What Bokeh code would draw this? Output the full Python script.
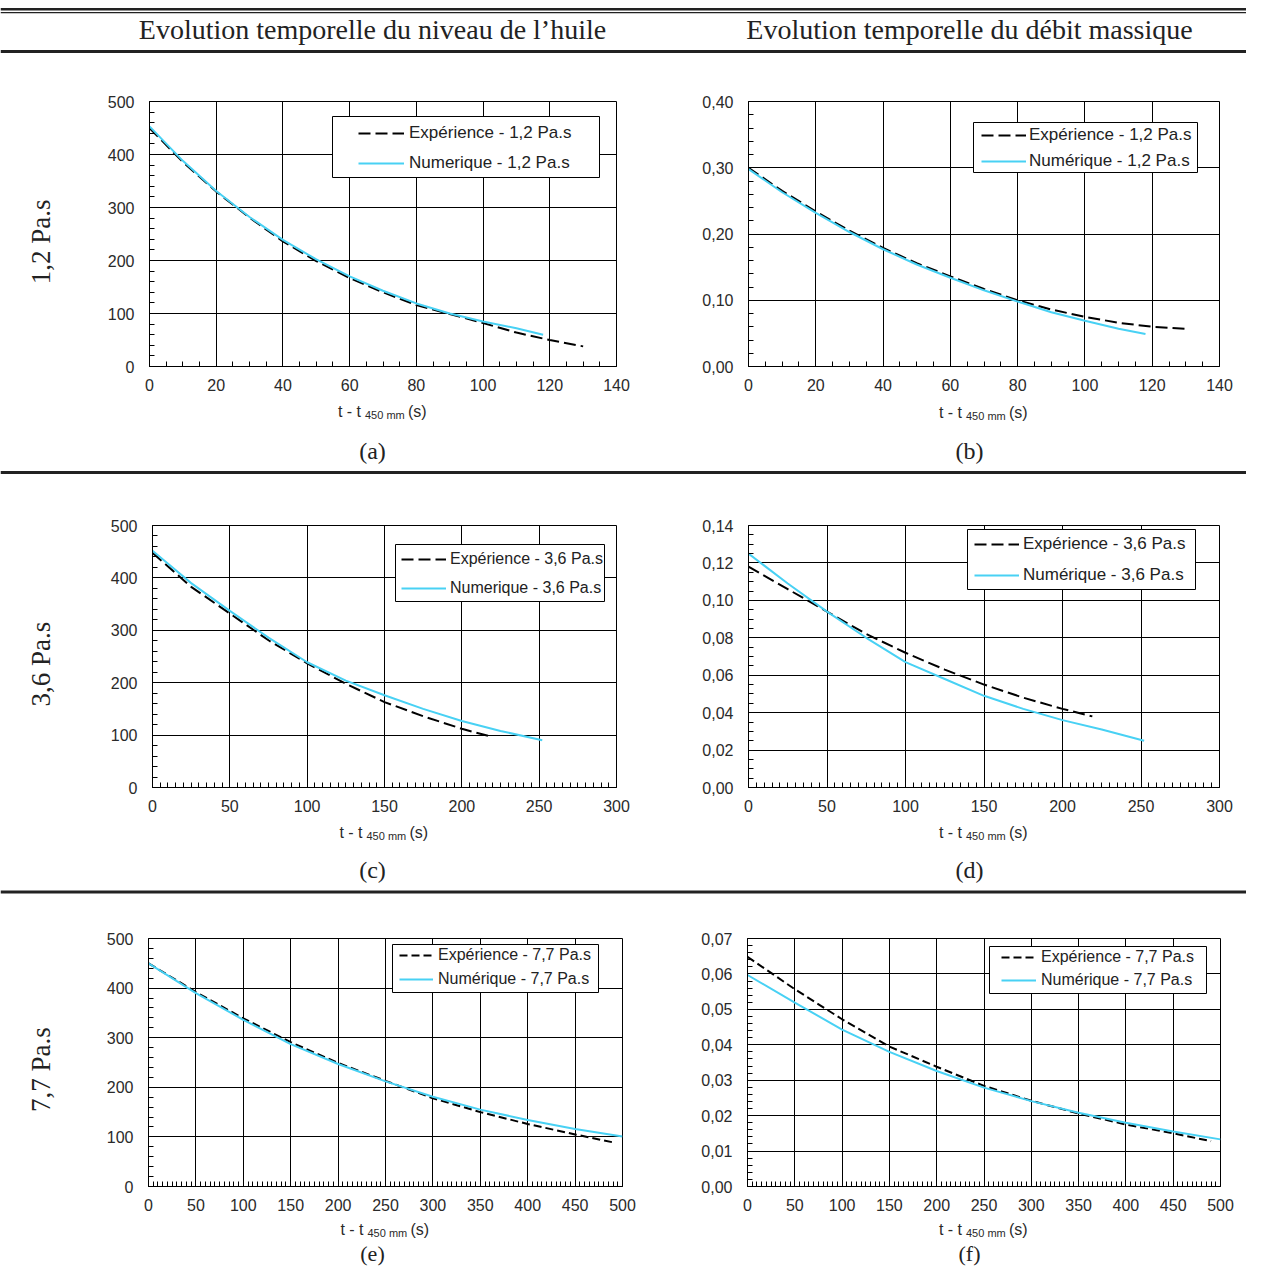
import numpy as np
from bokeh.plotting import figure
from bokeh.layouts import column, row
from bokeh.models import (Range1d, FixedTicker, CustomJSTickFormatter, Legend,
                          LegendItem, BoxAnnotation, Span)
from bokeh.core.properties import value
from bokeh.embed import file_html
from bokeh.resources import INLINE

# ------------------------------------------------------------------ data
COL_TITLES = ["Evolution temporelle du niveau de l\u2019huile",
              "Evolution temporelle du d\u00e9bit massique"]
ROW_TITLES = ["1,2 Pa.s", "3,6 Pa.s", "7,7 Pa.s"]
SUB_LABELS = ["(a)", "(b)", "(c)", "(d)", "(e)", "(f)"]

A_EXP_T = [0, 10, 20, 30, 40, 50, 60, 70, 80, 90, 100, 110, 120, 130]
A_EXP_H = [450, 386, 330, 281, 236, 199, 167, 140, 116, 99, 82, 64, 50, 38]
A_NUM_T = [0, 10, 20, 30, 40, 50, 60, 70, 80, 90, 100, 110, 118]
A_NUM_H = [453, 388, 331, 282, 239, 202, 170, 143, 119, 100, 85, 72, 60]

B_EXP_T = [0, 10, 20, 30, 40, 50, 60, 70, 80, 90, 100, 110, 120, 130]
B_EXP_Q = [0.300, 0.265, 0.234, 0.205, 0.179, 0.156, 0.136, 0.117, 0.100,
           0.086, 0.075, 0.066, 0.060, 0.057]
B_NUM_T = [0, 10, 20, 30, 40, 50, 60, 70, 80, 90, 100, 110, 118]
B_NUM_Q = [0.298, 0.263, 0.232, 0.203, 0.177, 0.154, 0.134, 0.115, 0.098,
           0.082, 0.069, 0.057, 0.049]

C_EXP_T = [0, 25, 50, 75, 100, 125, 150, 175, 200, 219]
C_EXP_H = [448, 383, 332, 281, 237, 198, 163, 136, 112, 97]
C_NUM_T = [0, 25, 50, 75, 100, 125, 150, 175, 200, 225, 252]
C_NUM_H = [452, 390, 337, 286, 239, 204, 176, 150, 127, 108, 90]

D_EXP_T = [0, 25, 50, 75, 100, 125, 150, 175, 200, 219]
D_EXP_Q = [0.118, 0.106, 0.094, 0.082, 0.072, 0.063, 0.055, 0.048, 0.042, 0.038]
D_NUM_T = [0, 25, 50, 75, 100, 125, 150, 175, 200, 225, 252]
D_NUM_Q = [0.125, 0.109, 0.094, 0.080, 0.067, 0.058, 0.049, 0.042, 0.036, 0.031, 0.025]

E_EXP_T = [0, 50, 100, 150, 200, 250, 300, 350, 400, 450, 490]
E_EXP_H = [450, 392, 339, 291, 249, 213, 178, 150, 126, 105, 89]
E_NUM_T = [0, 50, 100, 150, 200, 250, 300, 350, 400, 450, 500]
E_NUM_H = [450, 390, 336, 287, 247, 212, 181, 155, 134, 116, 101]

F_EXP_T = [0, 50, 100, 150, 200, 250, 300, 350, 400, 450, 490]
F_EXP_Q = [0.0648, 0.0557, 0.0472, 0.0395, 0.0338, 0.0284, 0.0242, 0.0206,
           0.0175, 0.0150, 0.0128]
F_NUM_T = [0, 50, 100, 150, 200, 250, 300, 350, 400, 450, 500]
F_NUM_Q = [0.0597, 0.0519, 0.0443, 0.0380, 0.0326, 0.0279, 0.0241, 0.0208,
           0.0180, 0.0155, 0.0133]

X_TICKS_140 = [0, 20, 40, 60, 80, 100, 120, 140]
X_TICKS_300 = [0, 50, 100, 150, 200, 250, 300]
X_TICKS_500 = [0, 50, 100, 150, 200, 250, 300, 350, 400, 450, 500]
Y_TICKS_H = [0, 100, 200, 300, 400, 500]
Y_TICKS_B = [0.0, 0.1, 0.2, 0.3, 0.4]
Y_TICKS_D = [0.0, 0.02, 0.04, 0.06, 0.08, 0.10, 0.12, 0.14]
Y_TICKS_F = [0.0, 0.01, 0.02, 0.03, 0.04, 0.05, 0.06, 0.07]

LEG_A = ["Exp\u00e9rience - 1,2 Pa.s", "Numerique - 1,2 Pa.s"]
LEG_B = ["Exp\u00e9rience - 1,2 Pa.s", "Num\u00e9rique - 1,2 Pa.s"]
LEG_C = ["Exp\u00e9rience - 3,6 Pa.s", "Numerique - 3,6 Pa.s"]
LEG_D = ["Exp\u00e9rience - 3,6 Pa.s", "Num\u00e9rique - 3,6 Pa.s"]
LEG_E = ["Exp\u00e9rience - 7,7 Pa.s", "Num\u00e9rique - 7,7 Pa.s"]
LEG_F = ["Exp\u00e9rience - 7,7 Pa.s", "Num\u00e9rique - 7,7 Pa.s"]

# ------------------------------------------------------------------ style
CYAN = "#48D1F4"
SANS = "Liberation Sans"
SERIF = "Liberation Serif"
INK = "#222222"
TICK_INK = "#2a2a2a"
W = 1246


def deco(w, h):
    f = figure(width=w, height=h, x_range=Range1d(0, w), y_range=Range1d(h, 0),
               output_backend="svg", toolbar_location=None, title=None,
               x_axis_location=None, y_axis_location=None,
               min_border_left=0, min_border_right=0,
               min_border_top=0, min_border_bottom=0)
    f.grid.visible = False
    f.outline_line_color = None
    f.background_fill_color = "white"
    f.border_fill_color = "white"
    return f


def hline(f, y, width):
    f.add_layout(Span(location=y, dimension="width", line_color=INK, line_width=width))


def minor(ticks, step):
    return [round(float(v), 6) for v in np.arange(ticks[0], ticks[-1] + step / 2, step)]


def make_plot(w, h, mb, xr, yr, xt, xstep, yt, ystep, yfmt, exp, num, labels,
              dash, leg, font_size):
    L, R, T, B = mb
    p = figure(width=w, height=h, x_range=Range1d(*xr), y_range=Range1d(*yr),
               output_backend="svg", toolbar_location=None, title=None,
               min_border_left=L, min_border_right=R,
               min_border_top=T, min_border_bottom=B)
    p.background_fill_color = "white"
    p.border_fill_color = "white"
    p.outline_line_color = "black"
    p.outline_line_width = 1
    xtk = FixedTicker(ticks=xt, minor_ticks=minor(xt, xstep))
    ytk = FixedTicker(ticks=yt, minor_ticks=minor(yt, ystep))
    p.xaxis.ticker = xtk
    p.yaxis.ticker = ytk
    p.xgrid.ticker = xtk
    p.ygrid.ticker = ytk
    p.xaxis.formatter = CustomJSTickFormatter(code="return tick.toFixed(0)")
    p.yaxis.formatter = CustomJSTickFormatter(code=yfmt)
    for ax in (p.xaxis, p.yaxis):
        ax.axis_line_color = "black"
        ax.axis_line_width = 1
        ax.major_tick_in = 0
        ax.major_tick_out = 0
        ax.minor_tick_in = 5
        ax.minor_tick_out = 0
        ax.minor_tick_line_color = "black"
        ax.major_label_text_font = SANS
        ax.major_label_text_font_size = "16px"
        ax.major_label_text_color = TICK_INK
    p.xaxis.major_label_standoff = 12
    p.yaxis.major_label_standoff = 15
    p.grid.grid_line_color = "black"
    p.grid.grid_line_alpha = 1
    p.grid.grid_line_width = 1

    r_exp = p.line(exp[0], exp[1], line_color="black", line_width=2, line_dash=dash)
    r_num = p.line(num[0], num[1], line_color=CYAN, line_width=2)

    # legend geometry (page pixels of the original layout)
    fl, fb = leg["frame_left"], leg["frame_bottom"]
    bl, br, bt, bb = leg["box"]
    gl, gr, ts = leg["glyph"]
    i1, i2 = leg["items"]
    gh = 20
    box = BoxAnnotation(left=bl - fl, right=br - fl, top=fb - bt, bottom=fb - bb,
                        left_units="screen", right_units="screen",
                        top_units="screen", bottom_units="screen",
                        fill_color="white", fill_alpha=1,
                        line_color="black", line_width=1, line_alpha=1)
    p.add_layout(box)
    lg = Legend(items=[LegendItem(label=labels[0], renderers=[r_exp]),
                       LegendItem(label=labels[1], renderers=[r_num])],
                location=(gl - fl, fb - (i2 + gh / 2)),
                border_line_color=None, background_fill_alpha=0,
                padding=0, margin=0, spacing=int(round(i2 - i1 - gh)),
                glyph_width=gr - gl, glyph_height=gh, label_height=gh,
                label_standoff=ts - gr,
                label_text_font=SANS, label_text_font_size=font_size,
                label_text_color=INK, label_text_baseline="middle")
    p.add_layout(lg)
    return p


FMT2 = "return tick.toFixed(2).replace('.', ',')"
FMT0 = "return tick.toFixed(0)"

# ------------------------------------------------------------------ header
header = deco(W, 60)
hline(header, 8.8, 2.4)
hline(header, 12.2, 1.3)
hline(header, 51, 3)
header.text(x=[372, 969], y=[29, 29], text=COL_TITLES,
            text_font=value(SERIF), text_font_size="28px", text_color=INK,
            text_align="center", text_baseline="middle")


def row_label(h, y, txt):
    f = deco(80, h)
    f.text(x=[40], y=[y], text=[txt], angle=np.pi / 2,
           text_font=value(SERIF), text_font_size="27px", text_color=INK,
           text_align="center", text_baseline="middle")
    return f


def caption(h, ylab, ysub, sub_size, sep, centers, subs):
    f = deco(W, h)
    for cx, yl in zip(centers, ylab):
        f.text(x=[cx - 22], y=[yl], text=["t - t"], text_font=value(SANS),
               text_font_size="16px", text_color=TICK_INK,
               text_align="right", text_baseline="middle")
        f.text(x=[cx - 18], y=[yl + 3], text=["450 mm"], text_font=value(SANS),
               text_font_size="11px", text_color=TICK_INK,
               text_align="left", text_baseline="middle")
        f.text(x=[cx + 25], y=[yl], text=["(s)"], text_font=value(SANS),
               text_font_size="16px", text_color=TICK_INK,
               text_align="left", text_baseline="middle")
    f.text(x=[372, 969], y=[ysub, ysub], text=subs, text_font=value(SERIF),
           text_font_size=sub_size, text_color=INK,
           text_align="center", text_baseline="middle")
    if sep is not None:
        hline(f, sep, 3)
    return f


# ------------------------------------------------------------------ plots
pa = make_plot(580, 340, (69, 44, 41, 32), (0, 140), (0, 500), X_TICKS_140, 5, Y_TICKS_H, 20,
               FMT0, (A_EXP_T, A_EXP_H), (A_NUM_T, A_NUM_H), LEG_A, "12 5",
               dict(frame_left=149, frame_bottom=368, box=(332, 599, 118, 179),
                    glyph=(358, 404, 409), items=(134.5, 164.5)), "17px")
pb = make_plot(586, 340, (88, 27, 34, 34), (0, 140), (0, 0.4), X_TICKS_140, 5, Y_TICKS_B, 0.02,
               FMT2, (B_EXP_T, B_EXP_Q), (B_NUM_T, B_NUM_Q), LEG_B, "12 5",
               dict(frame_left=748, frame_bottom=366, box=(973, 1197, 122, 172),
                    glyph=(981, 1026, 1029), items=(135, 161)), "17px")
pc = make_plot(580, 340, (72, 44, 45, 33), (0, 300), (0, 500), X_TICKS_300, 5, Y_TICKS_H, 20,
               FMT0, (C_EXP_T, C_EXP_H), (C_NUM_T, C_NUM_H), LEG_C, "12 5",
               dict(frame_left=152, frame_bottom=787, box=(395, 604, 544, 601),
                    glyph=(401, 446, 450), items=(559, 588)), "16px")
pd_ = make_plot(586, 340, (88, 27, 42, 33), (0, 300), (0, 0.14), X_TICKS_300, 5, Y_TICKS_D, 0.005,
                FMT2, (D_EXP_T, D_EXP_Q), (D_NUM_T, D_NUM_Q), LEG_D, "12 5",
                dict(frame_left=748, frame_bottom=787, box=(967, 1195, 529, 589),
                     glyph=(974, 1019, 1023), items=(544, 575)), "17px")
pe = make_plot(580, 318, (68, 38, 37, 32), (0, 500), (0, 500), X_TICKS_500, 5, Y_TICKS_H, 20,
               FMT0, (E_EXP_T, E_EXP_H), (E_NUM_T, E_NUM_H), LEG_E, "8 4",
               dict(frame_left=148, frame_bottom=1186, box=(392, 598, 944, 992),
                    glyph=(399, 433, 438), items=(955, 979)), "16px")
pf = make_plot(586, 318, (87, 26, 38, 32), (0, 500), (0, 0.07), X_TICKS_500, 5, Y_TICKS_F, 0.002,
               FMT2, (F_EXP_T, F_EXP_Q), (F_NUM_T, F_NUM_Q), LEG_F, "8 4",
               dict(frame_left=747, frame_bottom=1186, box=(989, 1206, 946, 993),
                    glyph=(1001, 1036, 1041), items=(957, 980)), "16px")

cap1 = caption(80, [11, 12], 50, "24px", 72, [382.5, 983.5], SUB_LABELS[0:2])
cap2 = caption(80, [12, 12], 49, "24px", 71.5, [384, 983.5], SUB_LABELS[2:4])
cap3 = caption(48, [11, 11], 35, "22px", None, [385, 983.5], SUB_LABELS[4:6])

layout = column(
    header,
    row(row_label(340, 180, ROW_TITLES[0]), pa, pb, spacing=0),
    cap1,
    row(row_label(340, 180, ROW_TITLES[1]), pc, pd_, spacing=0),
    cap2,
    row(row_label(318, 168, ROW_TITLES[2]), pe, pf, spacing=0),
    cap3,
    spacing=0,
)

open("out.html", "w").write(file_html(layout, INLINE))
